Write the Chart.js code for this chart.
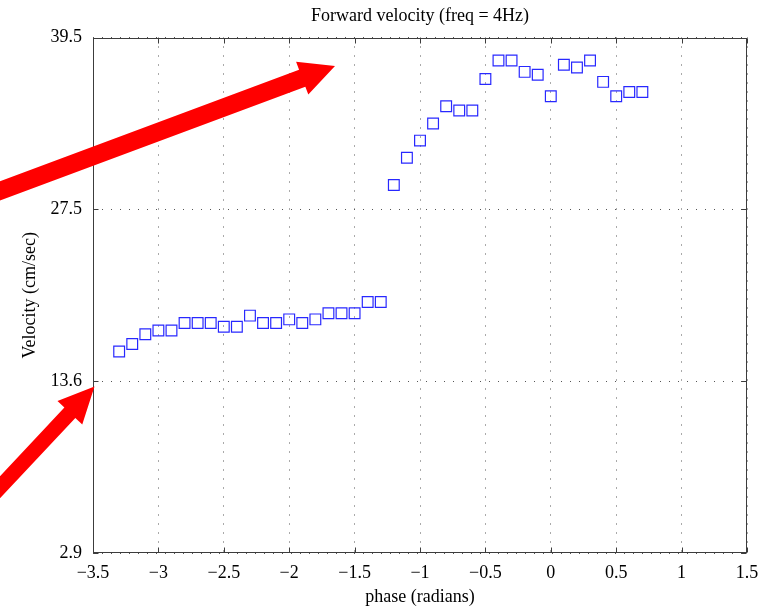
<!DOCTYPE html>
<html>
<head>
<meta charset="utf-8">
<script src="https://cdn.jsdelivr.net/npm/chart.js@4/dist/chart.umd.min.js"></script>
<style>
  html, body { margin: 0; padding: 0; background: #fff; }
  #wrap { width: 762px; height: 610px; }
</style>
</head>
<body>
<div id="wrap"><canvas id="velChart" width="762" height="610"></canvas></div>
<script>
'use strict';

// ── Data ──
const phase = [
  -3.3, -3.2, -3.1, -3.0, -2.9, -2.8, -2.7, -2.6, -2.5, -2.4, -2.3,
  -2.2, -2.1, -2.0, -1.9, -1.8, -1.7, -1.6, -1.5, -1.4, -1.3,
  -1.2, -1.1, -1.0, -0.9, -0.8, -0.7, -0.6, -0.5, -0.4, -0.3,
  -0.2, -0.1, 0.0, 0.1, 0.2, 0.3, 0.4, 0.5, 0.6, 0.7
];
const velocity = [
  16.0, 16.6, 17.4, 17.7, 17.7, 18.3, 18.3, 18.3, 18.0, 18.0, 18.9,
  18.3, 18.3, 18.6, 18.3, 18.6, 19.1, 19.1, 19.1, 20.0, 20.0,
  29.2, 31.1, 32.3, 33.5, 34.7, 34.4, 34.4, 36.6, 37.9, 37.9,
  37.1, 36.9, 35.4, 37.6, 37.4, 37.9, 36.4, 35.4, 35.7, 35.7
];
// y ticks sit evenly spaced on the axis but carry uneven values
const yTickValues = [2.9, 13.6, 27.5, 39.5];
const xTicks = [-3.5, -3, -2.5, -2, -1.5, -1, -0.5, 0, 0.5, 1, 1.5];

// map a velocity onto the tick-index axis (piecewise between labelled ticks)
function toAxis(v) {
  for (let i = 0; i < yTickValues.length - 1; i++) {
    const a = yTickValues[i], b = yTickValues[i + 1];
    if (v <= b || i === yTickValues.length - 2) return i + (v - a) / (b - a);
  }
  return 0;
}

const points = phase.map((p, i) => ({ x: p, y: toAxis(velocity[i]) }));

const SERIF = "'Liberation Serif', 'DejaVu Serif', serif";
const fmtMinus = (v) => (v < 0 ? '\u2212' : '') + Math.abs(v);

// ── Frame with inward ticks + red annotation arrows ──
function drawArrow(ctx, tipX, tipY, ux, uy, back, shaftW, headLen, headW) {
  const len = Math.hypot(ux, uy);
  ux /= len; uy /= len;
  const nx = -uy, ny = ux;
  const bx = tipX - ux * headLen, by = tipY - uy * headLen;
  const sx = tipX - ux * back, sy = tipY - uy * back;
  ctx.beginPath();
  ctx.moveTo(sx + nx * shaftW / 2, sy + ny * shaftW / 2);
  ctx.lineTo(bx + nx * shaftW / 2, by + ny * shaftW / 2);
  ctx.lineTo(bx + nx * headW / 2, by + ny * headW / 2);
  ctx.lineTo(tipX, tipY);
  ctx.lineTo(bx - nx * headW / 2, by - ny * headW / 2);
  ctx.lineTo(bx - nx * shaftW / 2, by - ny * shaftW / 2);
  ctx.lineTo(sx - nx * shaftW / 2, sy - ny * shaftW / 2);
  ctx.closePath();
  ctx.fill();
}

const framePlugin = {
  id: 'frame',
  afterDraw(chart) {
    const { ctx, chartArea: a, scales } = chart;
    const L = Math.round(a.left) + 0.5, R = Math.round(a.right) - 0.5;
    const T = Math.round(a.top) + 0.5, B = Math.round(a.bottom) - 0.5;
    const tick = 5;
    ctx.save();
    ctx.strokeStyle = '#3c3c3c';
    ctx.lineWidth = 1;
    ctx.strokeRect(L, T, R - L, B - T);
    ctx.beginPath();
    scales.x.ticks.forEach((t) => {
      const px = Math.round(scales.x.getPixelForValue(t.value)) + 0.5;
      ctx.moveTo(px, B); ctx.lineTo(px, B - tick);
      ctx.moveTo(px, T); ctx.lineTo(px, T + tick);
    });
    scales.y.ticks.forEach((t) => {
      const py = Math.round(scales.y.getPixelForValue(t.value)) + 0.5;
      ctx.moveTo(L, py); ctx.lineTo(L + tick, py);
      ctx.moveTo(R, py); ctx.lineTo(R - tick, py);
    });
    ctx.stroke();

    ctx.fillStyle = '#ff0000';
    drawArrow(ctx, 335, 66, 0.937, -0.349, 420, 18, 35, 35);
    drawArrow(ctx, 94.5, 386.5, 0.684, -0.729, 220, 15, 36, 34);
    ctx.restore();
  }
};

new Chart(document.getElementById('velChart'), {
  type: 'scatter',
  data: {
    datasets: [{
      label: 'Velocity',
      data: points,
      pointStyle: 'rect',
      pointRadius: 7.6,
      pointHoverRadius: 7.6,
      borderWidth: 1.2,
      borderColor: 'rgb(40,40,255)',
      backgroundColor: 'rgba(0,0,0,0)',
    }],
  },
  options: {
    responsive: false,
    animation: false,
    layout: { padding: { left: 0, right: 15, top: 0, bottom: 0 } },
    plugins: {
      legend: { display: false },
      tooltip: { enabled: false },
      title: {
        display: true,
        fullSize: false,
        text: 'Forward velocity (freq = 4Hz)',
        color: '#000',
        font: { family: SERIF, size: 18, weight: 'normal', lineHeight: 1.2 },
        padding: { top: 5, bottom: 10.9 },
      },
    },
    scales: {
      x: {
        type: 'linear',
        min: -3.5, max: 1.5,
        afterBuildTicks: (s) => { s.ticks = xTicks.map((v) => ({ value: v })); },
        afterFit: (s) => { s.height = 57; s.paddingLeft = 0; s.paddingRight = 0; },
        grid: { color: '#555', lineWidth: 1, drawTicks: false },
        border: { display: false, dash: [1, 8] },
        ticks: {
          padding: 9,
          color: '#000',
          font: { family: SERIF, size: 18 },
          maxRotation: 0,
          callback: fmtMinus,
        },
        title: {
          display: true,
          text: 'phase (radians)',
          color: '#000',
          font: { family: SERIF, size: 18, lineHeight: 1.2 },
          padding: { top: 0, bottom: 2 },
        },
      },
      y: {
        type: 'linear',
        min: 0, max: yTickValues.length - 1,
        afterBuildTicks: (s) => { s.ticks = yTickValues.map((_, i) => ({ value: i })); },
        afterFit: (s) => { s.width = 93; s.paddingTop = 0; s.paddingBottom = 0; },
        grid: { color: '#555', lineWidth: 1, drawTicks: false },
        border: { display: false, dash: [1, 8] },
        ticks: {
          padding: 11,
          color: '#000',
          font: { family: SERIF, size: 18 },
          callback: (v) => String(yTickValues[v]),
        },
        title: {
          display: true,
          text: 'Velocity (cm/sec)',
          color: '#000',
          font: { family: SERIF, size: 18, lineHeight: 1.2 },
          padding: { top: 19, bottom: 0 },
        },
      },
    },
  },
  plugins: [framePlugin],
});
</script>
</body>
</html>
